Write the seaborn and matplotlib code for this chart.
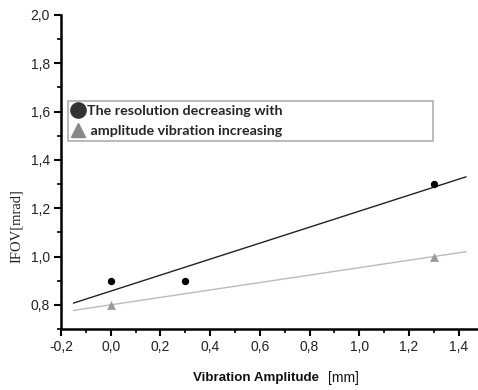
import numpy as np
import pandas as pd
import matplotlib
matplotlib.use("Agg")
import matplotlib.pyplot as plt
from matplotlib.ticker import MultipleLocator, FuncFormatter
from matplotlib.lines import Line2D
import seaborn as sns

# Data
amp_res = [0.0, 0.3, 1.3]
ifov_res = [0.9, 0.9, 1.3]
amp_vib = [0.0, 1.3]
ifov_vib = [0.8, 1.0]
legend_labels = ["The resolution decreasing with", " amplitude vibration increasing"]
x_label_main = "Vibration Amplitude"
x_label_unit = "[mm]"
y_label = "IFOV[mrad]"

sns.set_theme(style="white")
plt.rcParams['font.family'] = ['Liberation Sans', 'DejaVu Sans']

fig = plt.figure(figsize=(4.78, 3.90), dpi=100)
ax = fig.add_axes([61/478, 1-329/390, 1-61/478, (329-15)/390])

# fit lines
xfit = np.linspace(-0.15, 1.43, 50)
p1 = np.polyfit(amp_res, ifov_res, 1)
p2 = np.polyfit(amp_vib, ifov_vib, 1)
fit_df = pd.DataFrame({"x": np.concatenate([xfit, xfit]),
                       "y": np.concatenate([np.polyval(p1, xfit), np.polyval(p2, xfit)]),
                       "s": ["res"]*len(xfit) + ["vib"]*len(xfit)})
sns.lineplot(data=fit_df, x="x", y="y", hue="s", palette={"res": "#222222", "vib": "#bbbbbb"},
             linewidth=1.0, legend=False, ax=ax)

sns.scatterplot(x=amp_res, y=ifov_res, color="black", marker="o", s=28, edgecolor="black",
                linewidth=0, ax=ax, zorder=3)
sns.scatterplot(x=amp_vib, y=ifov_vib, color="#999999", marker="^", s=40, edgecolor="#999999",
                linewidth=0, ax=ax, zorder=3)

ax.set_xlim(-0.2, 1.478)
ax.set_ylim(0.7, 2.0)
ax.xaxis.set_major_locator(MultipleLocator(0.2))
ax.xaxis.set_minor_locator(MultipleLocator(0.1))
ax.yaxis.set_major_locator(MultipleLocator(0.2))
ax.yaxis.set_minor_locator(MultipleLocator(0.1))
fmt = FuncFormatter(lambda v, p: f"{v:.1f}".replace(".", ",").replace("-0,0", "0,0"))
ax.xaxis.set_major_formatter(fmt)
ax.yaxis.set_major_formatter(fmt)

for s in ["top", "right"]:
    ax.spines[s].set_visible(False)
for s in ["left", "bottom"]:
    ax.spines[s].set_color("black")
    ax.spines[s].set_linewidth(1.8)
ax.tick_params(which="major", direction="out", length=5, width=1.5, color="black",
               labelsize=10, labelcolor="#222222", left=True, bottom=True, pad=3)
ax.tick_params(which="minor", direction="out", length=3, width=1.2, color="black",
               left=True, bottom=True)
ax.set_facecolor("white")
ax.set_xlabel("")
ax.set_ylabel("")

fig.text(193/478, 1-378/390, x_label_main, ha="left", va="center", fontsize=9.6,
         fontweight="bold", family=["Liberation Sans"], color="#111111")
fig.text(328/478, 1-378/390, x_label_unit, ha="left", va="center", fontsize=10,
         family=["Liberation Sans"], color="#111111")
fig.text(16/478, 1-226/390, y_label, ha="center", va="center", rotation=90, fontsize=10.5,
         family=["Liberation Serif"], color="#222222")

handles = [Line2D([], [], marker="o", color="#333333", linestyle="none", markersize=11),
           Line2D([], [], marker="^", color="#888888", linestyle="none", markersize=10)]
leg = ax.legend(handles, legend_labels, loc="center left",
                bbox_to_anchor=(68/478, 1-149/390, (433-68)/478, (149-93)/390),
                bbox_transform=fig.transFigure, mode="expand",
                frameon=True, fancybox=False, borderpad=0.25, handletextpad=0.2,
                handlelength=0.9, labelspacing=0.55, borderaxespad=0,
                prop={"family": ["Lato"], "weight": "bold", "size": 10.3})
leg.get_frame().set_edgecolor("#999999")
leg.get_frame().set_linewidth(1.2)

fig.savefig("out.png", dpi=100)
